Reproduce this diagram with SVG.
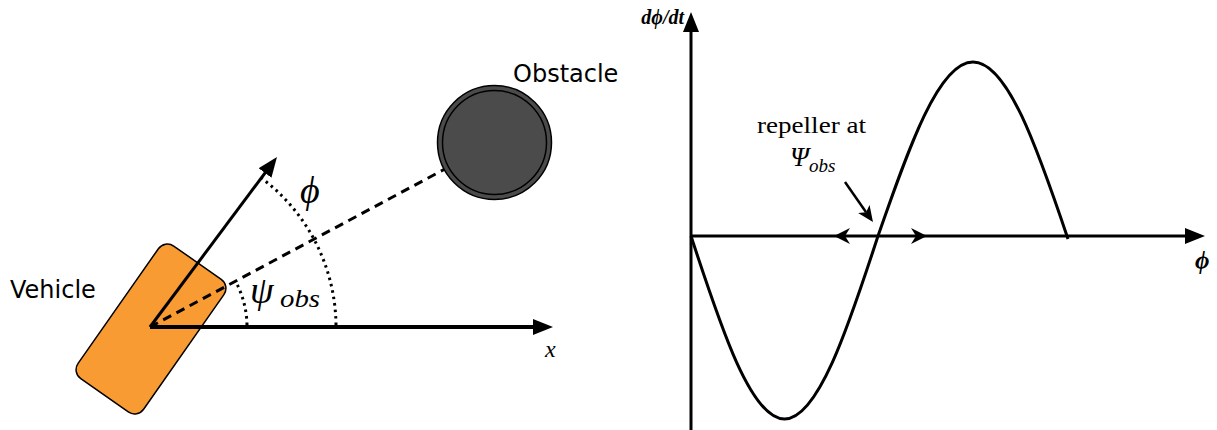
<svg xmlns="http://www.w3.org/2000/svg" width="1217" height="430" viewBox="0 0 1217 430">
<style>
.ln{stroke:#000;stroke-width:3;fill:none}
.dash{stroke:#000;stroke-width:3;fill:none;stroke-dasharray:9 6}
.dot{stroke:#000;stroke-width:3;fill:none;stroke-dasharray:2.5 4}
.sans{font-family:"DejaVu Sans",Verdana,sans-serif;font-size:24px;fill:#000}
.ser{font-family:"Liberation Serif","DejaVu Serif",serif;fill:#000}
.it{font-style:italic}
.head{fill:#000}
</style>
<defs>
<marker id="arr" viewBox="0 0 20 16" refX="10" refY="8" markerWidth="20" markerHeight="16" markerUnits="userSpaceOnUse" orient="auto">
<path d="M0,0 L20,8 L0,16 z" fill="#000"/>
</marker>
<marker id="barb" viewBox="0 0 16 14" refX="4" refY="7" markerWidth="16" markerHeight="14" markerUnits="userSpaceOnUse" orient="auto">
<path d="M0,0 L16,7 L0,14 L4,7 z" fill="#000"/>
</marker>
</defs>

<g id="vehicle">
<rect x="-40" y="-81" width="80" height="162" rx="11" transform="translate(151,329) rotate(35)" fill="#F99B33" stroke="#000" stroke-width="1.5"/>
</g>
<g id="obstacle">
<circle cx="494.5" cy="142.5" r="57" fill="#4b4b4b" stroke="#000" stroke-width="1.5"/>
<circle cx="494.5" cy="142.5" r="52" fill="none" stroke="#000" stroke-width="1.5"/>
</g>

<g id="connectors">
<path class="dash" d="M150,327 L444,169.5"/>
<path class="ln" d="M150,327 L543,327" style="stroke-width:4" marker-end="url(#arr)"/>
<path class="ln" d="M150,327 L271,165" marker-end="url(#arr)"/>
<path class="dot" d="M336,325 A186,186 0 0 0 261.3,178"/>
<path class="dot" d="M247,325 A97,97 0 0 0 235.5,281.2"/>

<path class="ln" d="M691,430 L691,22" marker-end="url(#arr)"/>
<path class="ln" d="M691,236 L1195,236" marker-end="url(#arr)"/>
<path class="ln" d="M691,236 C721.5,329.7 751.3,419 784.5,419 C817.7,419 847.5,329.7 878,236 C909,146.9 938.8,62 973,62 C1007.2,62 1037,146.9 1068,239"/>
<polygon class="head" points="834,236 850,228 845,236 850,244"/>
<polygon class="head" points="927,236 911,228 916,236 911,244"/>
<path class="ln" d="M845,182 L866.1,212.2" style="stroke-width:2.5" marker-end="url(#barb)"/>
</g>

<g id="labels">
<text class="sans" x="10" y="298">Vehicle</text>
<text class="sans" x="513" y="82">Obstacle</text>
<text class="ser it" x="300" y="203" font-size="38">ϕ</text>
<text class="ser it" x="250" y="303" font-size="38">ψ</text>
<text class="ser it" x="280" y="307" font-size="26" textLength="40" lengthAdjust="spacingAndGlyphs">obs</text>
<text class="ser it" x="545" y="357" font-size="24">x</text>
<text class="ser it" x="684" y="24" font-size="20" font-weight="bold" text-anchor="end">dϕ/dt</text>
<text class="ser it" x="1195" y="269" font-size="25" font-weight="bold">ϕ</text>
<text class="ser" x="757" y="133" font-size="24" textLength="109" lengthAdjust="spacingAndGlyphs">repeller at</text>
<text class="ser it" x="790" y="166" font-size="27">Ψ<tspan font-size="19" dy="6">obs</tspan></text>
</g>
</svg>
